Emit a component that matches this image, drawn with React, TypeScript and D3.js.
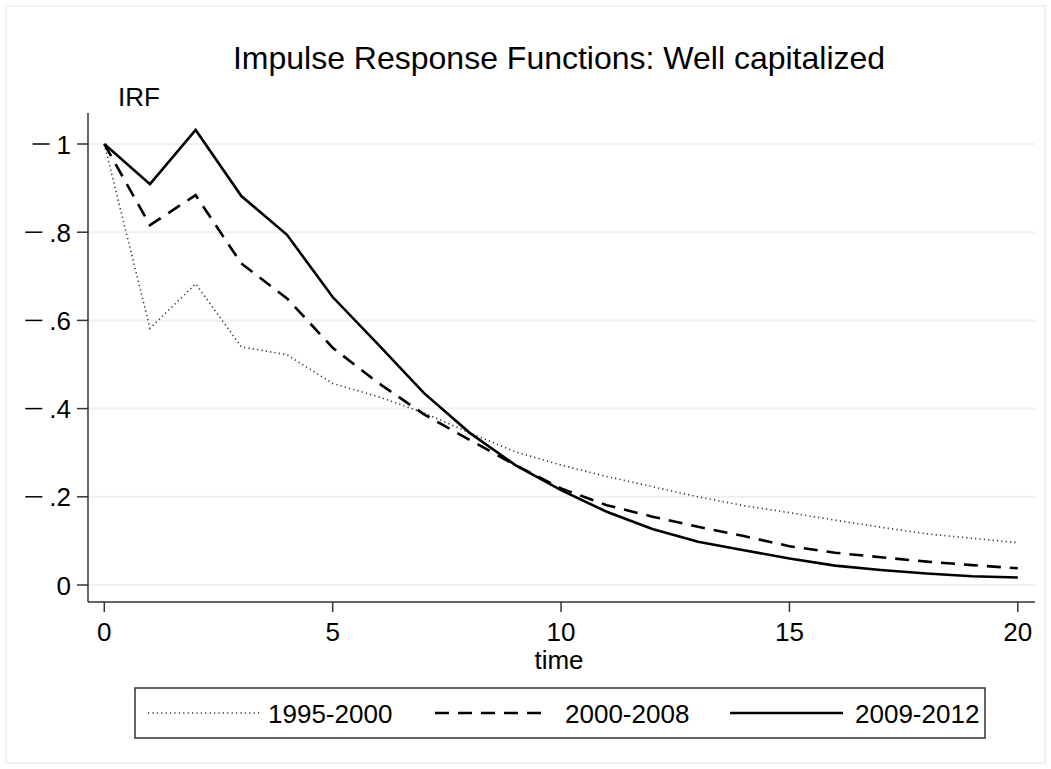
import React from "react";
import * as d3 from "d3";

const time = [0, 1, 2, 3, 4, 5, 6, 7, 8, 9, 10, 11, 12, 13, 14, 15, 16, 17, 18, 19, 20];
const irf1995_2000 = [1.0, 0.582, 0.683, 0.54, 0.522, 0.457, 0.427, 0.39, 0.345, 0.302, 0.272, 0.246, 0.223, 0.2, 0.18, 0.164, 0.147, 0.131, 0.116, 0.106, 0.096];
const irf2000_2008 = [1.0, 0.816, 0.884, 0.729, 0.65, 0.538, 0.458, 0.387, 0.329, 0.272, 0.219, 0.181, 0.155, 0.132, 0.111, 0.088, 0.073, 0.063, 0.053, 0.045, 0.038];
const irf2009_2012 = [1.0, 0.909, 1.032, 0.882, 0.794, 0.653, 0.545, 0.435, 0.345, 0.272, 0.215, 0.166, 0.127, 0.098, 0.079, 0.06, 0.044, 0.034, 0.026, 0.02, 0.017];
const seriesNames = ["1995-2000", "2000-2008", "2009-2012"];
const yTicks = [0, 0.2, 0.4, 0.6, 0.8, 1];
const yTickLabels = ["0", ".2", ".4", ".6", ".8", "1"];
const xTicks = [0, 5, 10, 15, 20];
const title = "Impulse Response Functions: Well capitalized";
const yTitle = "IRF";
const xTitle = "time";

const W = 1051;
const H = 769;
const FONT = "'Liberation Sans', Arial, Helvetica, sans-serif";

export default function App() {
  const plotLeft = 88;
  const plotRight = 1035;
  const plotTop = 113;
  const plotBottom = 602;
  const x = d3.scaleLinear().domain([0, 20]).range([104.3, 1017.8]);
  const y = d3.scaleLinear().domain([0, 1]).range([585, 144]);
  const line = d3
    .line<number>()
    .x((_, i) => x(time[i]))
    .y((d) => y(d));

  const series = [
    { name: seriesNames[0], values: irf1995_2000, stroke: "#333", width: 1.6, dash: "1.2 3.2" },
    { name: seriesNames[1], values: irf2000_2008, stroke: "#000", width: 2.6, dash: "14 9" },
    { name: seriesNames[2], values: irf2009_2012, stroke: "#000", width: 2.6, dash: null as string | null },
  ];

  const legendItems = [
    { x1: 148, x2: 260, tx: 268 },
    { x1: 435, x2: 550, tx: 565 },
    { x1: 730, x2: 843, tx: 855 },
  ];

  const labelWidth = (s: string) => {
    let w = 0;
    for (const c of s) w += c === "." ? 0.278 : 0.556;
    return w * 26;
  };

  return (
    <svg
      width={W}
      height={H}
      style={{ position: "absolute", left: 0, top: 0, display: "block", background: "#fff" }}
      fontFamily={FONT}
    >
      <rect x={0} y={0} width={W} height={H} fill="#fff" />
      <rect x={6} y={6} width={1039} height={757} fill="none" stroke="#eaf2f3" strokeWidth={2} />

      {/* gridlines */}
      {yTicks.map((t) => (
        <line key={"g" + t} x1={plotLeft} x2={plotRight} y1={y(t)} y2={y(t)} stroke="#eaf2f3" strokeWidth={2} />
      ))}

      {/* axes */}
      <line x1={plotLeft} x2={plotLeft} y1={plotTop} y2={plotBottom} stroke="#333" strokeWidth={1.5} />
      <line x1={plotLeft} x2={plotRight} y1={plotBottom} y2={plotBottom} stroke="#333" strokeWidth={1.5} />

      {/* y ticks */}
      {yTicks.map((t, i) => {
        const left = 71 - labelWidth(yTickLabels[i]);
        return (
          <g key={"y" + t}>
            <line x1={77} x2={plotLeft} y1={y(t)} y2={y(t)} stroke="#333" strokeWidth={1.5} />
            {t !== 0 && (
              <line x1={left - 24} x2={left - 7} y1={y(t)} y2={y(t)} stroke="#000" strokeWidth={1.5} />
            )}
            <text x={71} y={y(t) + 9.5} textAnchor="end" fontSize={26} fill="#000">
              {yTickLabels[i]}
            </text>
          </g>
        );
      })}

      {/* x ticks */}
      {xTicks.map((t) => (
        <g key={"x" + t}>
          <line x1={x(t)} x2={x(t)} y1={plotBottom} y2={612} stroke="#333" strokeWidth={1.5} />
          <text x={x(t)} y={641} textAnchor="middle" fontSize={26} fill="#000">
            {t}
          </text>
        </g>
      ))}

      {/* series */}
      {series.map((s) => (
        <path
          key={s.name}
          d={line(s.values) || ""}
          fill="none"
          stroke={s.stroke}
          strokeWidth={s.width}
          strokeDasharray={s.dash || undefined}
          strokeLinejoin="miter"
        />
      ))}

      {/* titles */}
      <text x={559} y={69} textAnchor="middle" fontSize={32} fill="#000">
        {title}
      </text>
      <text x={118} y={106} fontSize={26} fill="#000">
        {yTitle}
      </text>
      <text x={559} y={669} textAnchor="middle" fontSize={26} fill="#000">
        {xTitle}
      </text>

      {/* legend */}
      <rect x={135} y={688} width={850} height={50} fill="#fff" stroke="#333" strokeWidth={1.5} />
      {series.map((s, i) => (
        <g key={"l" + s.name}>
          <line
            x1={legendItems[i].x1}
            x2={legendItems[i].x2}
            y1={713}
            y2={713}
            stroke={s.stroke}
            strokeWidth={s.width}
            strokeDasharray={s.dash || undefined}
          />
          <text x={legendItems[i].tx} y={722.5} fontSize={26} fill="#000">
            {s.name}
          </text>
        </g>
      ))}
    </svg>
  );
}
